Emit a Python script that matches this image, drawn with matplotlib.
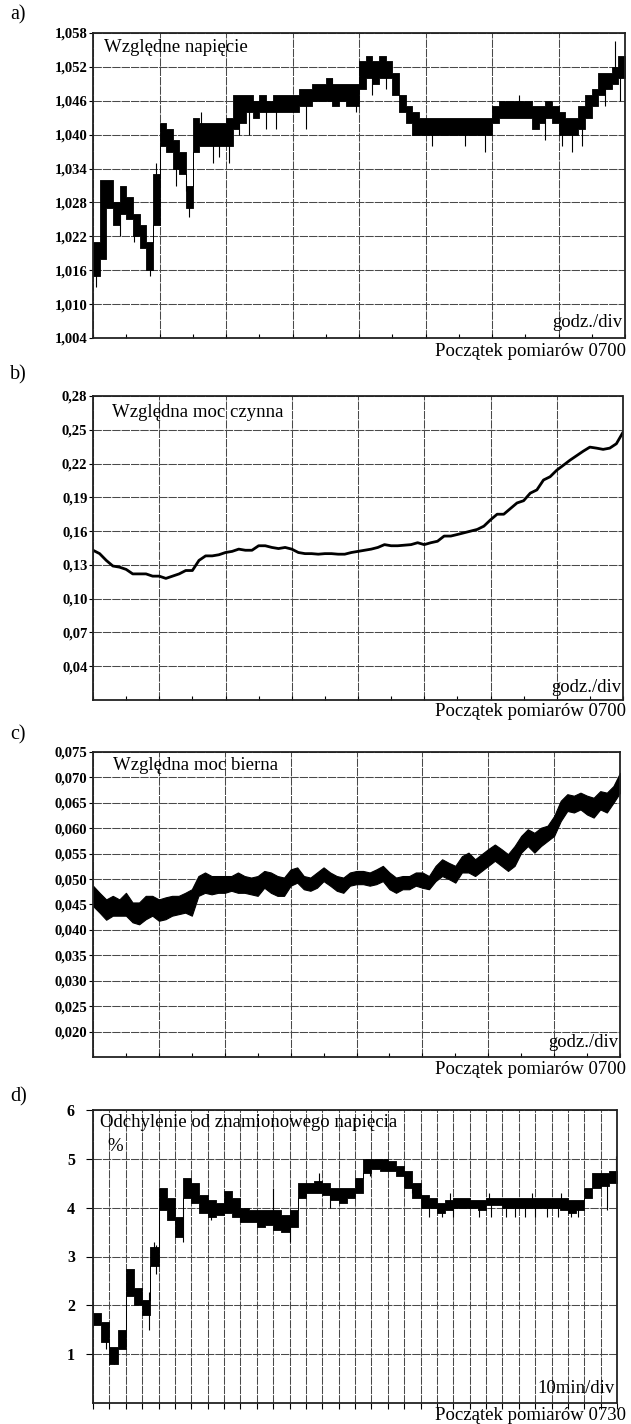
import numpy as np
import matplotlib
matplotlib.use("Agg")
import matplotlib.pyplot as plt
from matplotlib.ticker import FixedLocator, FuncFormatter

plt.rcParams['font.family'] = ['Liberation Serif', 'DejaVu Serif']

# a) wzgledne napiecie - pasmo (dol / gora) co 0,1 dzialki
nap_lo = [1.015, 1.018, 1.027, 1.024, 1.026, 1.025, 1.022, 1.020, 1.016, 1.024,
          1.038, 1.037, 1.034, 1.033, 1.027, 1.037, 1.038, 1.038, 1.038, 1.038,
          1.038, 1.041, 1.042, 1.044, 1.043, 1.044, 1.044, 1.044, 1.044, 1.044,
          1.044, 1.045, 1.045, 1.046, 1.046, 1.046, 1.045, 1.046, 1.045, 1.045,
          1.048, 1.050, 1.049, 1.050, 1.050, 1.047, 1.044, 1.042, 1.040, 1.040,
          1.040, 1.040, 1.040, 1.040, 1.040, 1.040, 1.040, 1.040, 1.040, 1.040,
          1.042, 1.043, 1.043, 1.043, 1.043, 1.043, 1.041, 1.042, 1.043, 1.042,
          1.040, 1.040, 1.040, 1.041, 1.043, 1.045, 1.047, 1.048, 1.049, 1.050]
nap_hi = [1.021, 1.032, 1.032, 1.028, 1.031, 1.029, 1.026, 1.024, 1.021, 1.033,
          1.042, 1.041, 1.039, 1.037, 1.031, 1.043, 1.042, 1.042, 1.042, 1.042,
          1.043, 1.047, 1.047, 1.047, 1.046, 1.047, 1.046, 1.047, 1.047, 1.047,
          1.047, 1.048, 1.048, 1.049, 1.049, 1.050, 1.049, 1.049, 1.049, 1.049,
          1.053, 1.054, 1.053, 1.054, 1.053, 1.051, 1.047, 1.045, 1.044, 1.043,
          1.043, 1.043, 1.043, 1.043, 1.043, 1.043, 1.043, 1.043, 1.043, 1.043,
          1.045, 1.046, 1.046, 1.046, 1.046, 1.046, 1.045, 1.045, 1.046, 1.045,
          1.044, 1.043, 1.043, 1.045, 1.047, 1.048, 1.051, 1.051, 1.052, 1.054]
nap_szpil_x = [0.05, 0.4, 0.62, 0.86, 0.95, 1.25, 1.4, 1.45, 1.62, 1.8, 1.9, 2.05,
               2.2, 2.35, 2.6, 2.75, 3.2, 3.6, 3.95, 4.2, 4.4, 5.1, 5.6, 5.9,
               6.4, 6.8, 7.05, 7.2, 7.35, 7.7, 7.85, 7.92]
nap_szpil_y = [1.013, 1.022, 1.021, 1.015, 1.035, 1.031, 1.030, 1.0255, 1.044, 1.035, 1.036, 1.035,
               1.040, 1.040, 1.041, 1.041, 1.041, 1.050, 1.044, 1.047, 1.048, 1.038, 1.038, 1.037,
               1.047, 1.039, 1.038, 1.037, 1.038, 1.045, 1.0565, 1.046]

# b) wzgledna moc czynna co 0,1 dzialki
moc_czynna = [0.143, 0.140, 0.134, 0.129, 0.128, 0.126, 0.122, 0.122, 0.122, 0.120,
              0.120, 0.118, 0.120, 0.122, 0.125, 0.125, 0.134, 0.138, 0.138, 0.139,
              0.141, 0.142, 0.144, 0.143, 0.143, 0.147, 0.147, 0.1455, 0.1445, 0.1455,
              0.144, 0.141, 0.140, 0.140, 0.1395, 0.140, 0.140, 0.1395, 0.1395, 0.141,
              0.142, 0.143, 0.144, 0.1455, 0.148, 0.147, 0.147, 0.1475, 0.148, 0.1497,
              0.148, 0.1497, 0.151, 0.1556, 0.1556, 0.157, 0.1585, 0.160, 0.1615, 0.1644,
              0.170, 0.175, 0.175, 0.180, 0.185, 0.187, 0.1937, 0.1966, 0.2054, 0.2083,
              0.2141, 0.2185, 0.223, 0.227, 0.231, 0.2346, 0.2337, 0.2326, 0.2337, 0.2376,
              0.2478]

# c) wzgledna moc bierna - pasmo co 0,1 dzialki
bierna_hi = [0.0487, 0.0473, 0.0460, 0.0467, 0.0460, 0.0473, 0.0454, 0.0454, 0.0467, 0.0467,
             0.0460, 0.0464, 0.0467, 0.0467, 0.0473, 0.0480, 0.0506, 0.0513, 0.0506, 0.0506,
             0.0506, 0.0506, 0.0513, 0.0506, 0.0503, 0.0506, 0.0516, 0.0513, 0.0506, 0.0503,
             0.0519, 0.0523, 0.0506, 0.0503, 0.0513, 0.0523, 0.0513, 0.0506, 0.0503, 0.0513,
             0.0516, 0.0516, 0.0513, 0.0519, 0.0526, 0.0513, 0.0503, 0.0506, 0.0506, 0.0513,
             0.0513, 0.0506, 0.0526, 0.0539, 0.0532, 0.0526, 0.0545, 0.0552, 0.0539, 0.0549,
             0.0559, 0.0568, 0.0559, 0.0549, 0.0565, 0.0585, 0.0598, 0.0591, 0.0601, 0.0605,
             0.0624, 0.0654, 0.0667, 0.0664, 0.0670, 0.0664, 0.0660, 0.0673, 0.0670, 0.0683,
             0.0709]
bierna_lo = [0.0447, 0.0434, 0.0420, 0.0428, 0.0428, 0.0428, 0.0415, 0.0411, 0.0421, 0.0428,
             0.0418, 0.0421, 0.0428, 0.0431, 0.0434, 0.0428, 0.0467, 0.0473, 0.0470, 0.0473,
             0.0473, 0.0477, 0.0473, 0.0473, 0.0470, 0.0467, 0.0483, 0.0473, 0.0467, 0.0467,
             0.0487, 0.0493, 0.0480, 0.0477, 0.0483, 0.0496, 0.0487, 0.0477, 0.0473, 0.0487,
             0.0490, 0.0490, 0.0487, 0.0490, 0.0496, 0.0480, 0.0473, 0.0480, 0.0480, 0.0487,
             0.0483, 0.0480, 0.0496, 0.0506, 0.0500, 0.0493, 0.0513, 0.0513, 0.0506, 0.0516,
             0.0526, 0.0536, 0.0526, 0.0516, 0.0526, 0.0552, 0.0565, 0.0552, 0.0565, 0.0575,
             0.0585, 0.0614, 0.0634, 0.0631, 0.0637, 0.0627, 0.0621, 0.0637, 0.0631, 0.0650,
             0.0670]

# d) odchylenie od znamionowego napiecia [%] - pasmo co 0,5 dzialki (10 min/dz)
odch_lo = [1.60, 1.25, 0.80, 1.10, 2.20, 2.00, 1.80, 2.80, 3.95, 3.75, 3.40, 4.20, 4.10, 3.90,
           3.80, 3.85, 3.90, 3.80, 3.70, 3.70, 3.60, 3.65, 3.55, 3.50, 3.60, 4.20, 4.30, 4.30,
           4.25, 4.15, 4.10, 4.20, 4.30, 4.70, 4.80, 4.75, 4.75, 4.65, 4.40, 4.20, 4.00, 4.00,
           3.90, 3.95, 4.00, 4.00, 4.00, 3.95, 4.05, 4.05, 4.00, 4.00, 4.00, 4.00, 4.00, 4.00,
           4.00, 3.95, 3.90, 3.95, 4.20, 4.40, 4.45, 4.50]
odch_hi = [1.85, 1.65, 1.15, 1.50, 2.75, 2.35, 2.10, 3.20, 4.40, 4.20, 3.80, 4.60, 4.50, 4.25,
           4.15, 4.10, 4.35, 4.20, 4.00, 3.95, 3.95, 3.95, 3.95, 3.85, 3.95, 4.50, 4.50, 4.55,
           4.50, 4.40, 4.40, 4.40, 4.60, 5.00, 5.00, 5.00, 4.95, 4.85, 4.75, 4.50, 4.25, 4.20,
           4.10, 4.15, 4.20, 4.20, 4.15, 4.15, 4.20, 4.20, 4.20, 4.20, 4.20, 4.20, 4.20, 4.20,
           4.20, 4.20, 4.15, 4.15, 4.40, 4.70, 4.70, 4.75]
odch_szpil_x = [0.8, 1.3, 3.4, 3.75, 3.85, 5.5, 7.2, 9.0, 11.0, 12.0, 13.8, 14.5, 16.9,
                19.5, 20.0, 20.5, 21.3, 21.8, 22.0, 23.6, 24.2, 24.3, 25.2, 25.8, 26.4,
                26.8, 27.0, 27.7, 28.4, 28.6, 29.2, 29.6, 31.4, 31.95]
odch_szpil_y = [1.10, 0.80, 1.50, 3.30, 2.65, 3.30, 3.75, 3.70, 4.40, 3.30, 4.70, 4.00, 4.65,
                4.30, 4.30, 3.80, 3.80, 4.30, 3.80, 3.80, 4.30, 3.80, 3.80, 3.80, 3.80,
                4.30, 3.80, 3.80, 3.80, 4.30, 3.80, 3.80, 3.95, 5.05]

W, H = 631, 1424
fig = plt.figure(figsize=(W / 100, H / 100), dpi=100)


def osie(left, top, right, bottom):
    return fig.add_axes([left / W, 1 - bottom / H, (right - left) / W, (bottom - top) / H])


def styl(ax, xmax, yticks, ylim, fmt, xgrid, minor=True, pad=1, rozm=10.5):
    ax.set_xlim(0, xmax)
    ax.set_ylim(*ylim)
    ax.yaxis.set_major_locator(FixedLocator(yticks))
    ax.yaxis.set_major_formatter(FuncFormatter(fmt))
    ax.xaxis.set_major_locator(FixedLocator(xgrid))
    ax.xaxis.set_major_formatter(FuncFormatter(lambda v, p: ''))
    ax.grid(True, color='#4a4a4a', lw=0.75, ls=(0, (8, 1)))
    ax.set_axisbelow(True)
    for s in ax.spines.values():
        s.set_linestyle((0, (2, 1)))
        s.set_linewidth(1.3)
        s.set_color('#222222')
    ax.tick_params(axis='y', length=3, width=0.8, pad=pad, labelsize=rozm)
    for t in ax.get_yticklabels():
        t.set_fontweight('bold')
    if minor:
        ax.xaxis.set_minor_locator(FixedLocator(np.asarray(xgrid) + 0.5))
        ax.tick_params(axis='x', which='both', direction='in', length=3, width=0.8)
    else:
        ax.tick_params(axis='x', direction='out', length=4, width=0.8)


def pasmo(ax, xmax, lo, hi, szx=None, szy=None):
    lo = np.asarray(lo)
    hi = np.asarray(hi)
    kraw = np.linspace(0, xmax, len(lo) + 1)
    ax.fill_between(kraw, np.append(lo, lo[-1]), np.append(hi, hi[-1]), step='post',
                    color='black', lw=0.6, edgecolor='black')
    if szx is not None:
        srodki = (kraw[:-1] + kraw[1:]) / 2
        baza = np.interp(szx, srodki, (lo + hi) / 2)
        ax.vlines(szx, baza, szy, color='black', lw=0.8)


fs = 13.5

# a)
ax = osie(93, 33, 625, 338)
styl(ax, 8, [1.004 + 0.006 * i for i in range(10)], (1.004, 1.058),
     lambda v, p: f"{v:.3f}".replace('.', ','), range(9))
pasmo(ax, 8, nap_lo, nap_hi, nap_szpil_x, nap_szpil_y)
ax.text(0.021, 0.954, 'Względne napięcie', transform=ax.transAxes, fontsize=fs, va='center')
ax.text(0.996, 0.05, 'godz./div', transform=ax.transAxes, fontsize=fs, va='center', ha='right')

# b)
ax = osie(93, 396, 623, 700)
styl(ax, 8, [0.04 + 0.03 * i for i in range(9)], (0.01, 0.28),
     lambda v, p: f"{v:.2f}".replace('.', ','), range(9))
ax.plot(np.linspace(0, 8, len(moc_czynna)), moc_czynna, color='black', lw=2.0)
ax.text(0.036, 0.947, 'Względna moc czynna', transform=ax.transAxes, fontsize=fs, va='center')
ax.text(0.996, 0.04, 'godz./div', transform=ax.transAxes, fontsize=fs, va='center', ha='right')

# c)
ax = osie(93, 752, 620, 1057)
styl(ax, 8, [0.020 + 0.005 * i for i in range(12)], (0.015, 0.075),
     lambda v, p: f"{v:.3f}".replace('.', ','), range(9))
xc = np.linspace(0, 8, len(bierna_lo))
ax.fill_between(xc, bierna_lo, bierna_hi, color='black', lw=0.8, edgecolor='black')
ax.text(0.038, 0.957, 'Względna moc bierna', transform=ax.transAxes, fontsize=fs, va='center')
ax.text(0.996, 0.046, 'godz./div', transform=ax.transAxes, fontsize=fs, va='center', ha='right')

# d)
ax = osie(93, 1110, 617, 1403)
styl(ax, 32, [1, 2, 3, 4, 5, 6], (0, 6), lambda v, p: f"{v:.0f}", range(33),
     minor=False, pad=8, rozm=11.5)
ax.tick_params(axis='y', length=5)
pasmo(ax, 32, odch_lo, odch_hi, odch_szpil_x, odch_szpil_y)
ax.text(0.013, 0.956, 'Odchylenie od znamionowego napięcia', transform=ax.transAxes,
        fontsize=fs, va='center')
ax.text(0.027, 0.874, '%', transform=ax.transAxes, fontsize=fs, va='center')
ax.text(0.996, 0.051, '10min/div', transform=ax.transAxes, fontsize=fs, va='center', ha='right')

# podpisy paneli i poczatek pomiarow
for lit, yc in [('a)', 15), ('b)', 375), ('c)', 735), ('d)', 1097)]:
    fig.text(10 / W, 1 - yc / H, lit, fontsize=14.5, va='center')
for napis, yc in [('Początek pomiarów 0700', 352), ('Początek pomiarów 0700', 712),
                  ('Początek pomiarów 0700', 1070), ('Początek pomiarów 0730', 1415)]:
    fig.text(626 / W, 1 - yc / H, napis, fontsize=fs, va='center', ha='right')

fig.savefig('out.png', dpi=100)
